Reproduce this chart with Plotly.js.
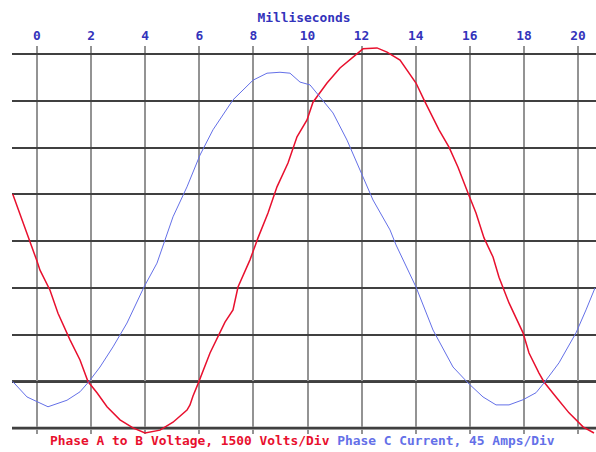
<!DOCTYPE html>
<html>
<head>
<meta charset="utf-8">
<script src="https://cdn.plot.ly/plotly-3.0.1.min.js"></script>
<style>html,body{margin:0;padding:0;background:#fff;}#chart{width:596px;height:452px;}</style>
</head>
<body>
<div id="chart"></div>
<script>
// Phase A to B voltage (red), in divisions (1500 V/div), vs milliseconds
const voltMs = [-0.898,-0.259,-0.011,0.111,0.481,0.776,1.220,1.590,1.885,2.218,2.588,3.068,3.549,3.993,4.547,5.028,5.545,5.656,5.767,5.952,6.396,6.950,7.246,7.431,7.874,8.170,8.540,8.872,9.279,9.612,9.982,10.203,10.721,11.201,11.682,12.052,12.569,12.939,13.420,13.752,14.011,14.307,14.640,14.861,15.231,15.564,15.933,16.229,16.525,16.858,17.079,17.449,17.967,18.189,18.558,18.743,19.187,19.667,20.185,20.591];
const voltDiv = [5.01,4.02,3.59,3.38,2.95,2.46,1.89,1.46,1.00,0.76,0.46,0.18,0.01,-0.10,-0.04,0.13,0.39,0.50,0.69,0.95,1.61,2.27,2.53,3.02,3.60,4.07,4.60,5.16,5.67,6.23,6.59,6.97,7.38,7.70,7.94,8.11,8.13,8.04,7.87,7.59,7.38,7.02,6.65,6.38,6.01,5.58,5.03,4.60,4.07,3.66,3.23,2.68,2.04,1.61,1.18,0.99,0.67,0.33,0.03,-0.10];
// Phase C current (blue), in divisions (45 A/div), vs milliseconds
const currMs = [-0.898,-0.370,0.407,1.109,1.590,1.922,2.329,2.810,3.327,3.956,4.436,4.732,5.028,5.545,6.026,6.506,7.246,7.985,8.503,8.983,9.353,9.723,10.092,10.462,10.943,11.460,11.941,12.421,13.050,13.272,14.011,14.640,15.379,15.933,16.488,16.969,17.449,17.967,18.447,18.743,19.298,19.926,20.296,20.628];
const currDiv = [1.00,0.67,0.46,0.60,0.78,1.00,1.31,1.74,2.25,3.02,3.53,4.02,4.52,5.16,5.84,6.38,7.02,7.44,7.59,7.61,7.59,7.40,7.34,7.08,6.74,6.16,5.52,4.88,4.24,3.92,3.02,2.10,1.31,0.97,0.67,0.50,0.50,0.61,0.76,0.97,1.40,2.04,2.53,3.00];
const msTicks = [0,2,4,6,8,10,12,14,16,18,20];
const divLines = [0,1,2,3,4,5,6,7,8];
const voltLabel = 'Phase A to B Voltage, 1500 Volts/Div';
const currLabel = 'Phase C Current, 45 Amps/Div';

const FONT = '"DejaVu Sans Mono", "Liberation Mono", monospace';
const RED = '#e8102e';
const BLUE = '#6470e8';
const TXT = '#3333bb';

const traces = [
  {x: voltMs, y: voltDiv, mode: 'lines', line: {color: RED, width: 1.5}, hoverinfo: 'skip'},
  {x: currMs, y: currDiv, mode: 'lines', line: {color: BLUE, width: 1}, hoverinfo: 'skip'}
];

const layout = {
  width: 596, height: 452,
  margin: {l: 12, r: 0, t: 46, b: 18},
  paper_bgcolor: '#fff', plot_bgcolor: '#fff',
  showlegend: false,
  font: {family: FONT, size: 12.9, color: TXT},
  xaxis: {
    side: 'top', range: [-0.924, 20.665],
    tickvals: msTicks, ticktext: msTicks.map(String),
    ticks: '', showline: false, zeroline: false,
    ticklabelstandoff: 2,
    gridcolor: '#939393', gridwidth: 2,
    tickfont: {family: FONT, size: 12.9, color: TXT, weight: 'bold'},
    title: {text: 'Milliseconds', standoff: 2, font: {family: FONT, size: 12.9, color: TXT, weight: 'bold'}}
  },
  yaxis: {
    range: [-0.122, 8.171],
    tickvals: divLines, showticklabels: false, ticks: '',
    showline: false, zeroline: false,
    gridcolor: '#404040', gridwidth: 2
  },
  shapes: [
    {type: 'line', xref: 'paper', x0: 0, x1: 1, yref: 'y', y0: divLines[1], y1: divLines[1], line: {color: '#111', width: 2.5}, layer: 'below'},
    {type: 'line', xref: 'paper', x0: 0, x1: 1, yref: 'y', y0: divLines[0], y1: divLines[0], line: {color: '#9a9a9a', width: 3.5}, layer: 'below'}
  ],
  annotations: [{
    xref: 'paper', yref: 'paper', x: 0.4966, y: 0, xanchor: 'center', yanchor: 'top', yshift: 3,
    showarrow: false,
    text: '<span style="color:' + RED + '">' + voltLabel + '</span> <span style="color:' + BLUE + '">' + currLabel + '</span>',
    font: {family: FONT, size: 12.9, weight: 'bold'}
  }]
};

Plotly.newPlot('chart', traces, layout, {staticPlot: true, displayModeBar: false});
</script>
</body>
</html>
